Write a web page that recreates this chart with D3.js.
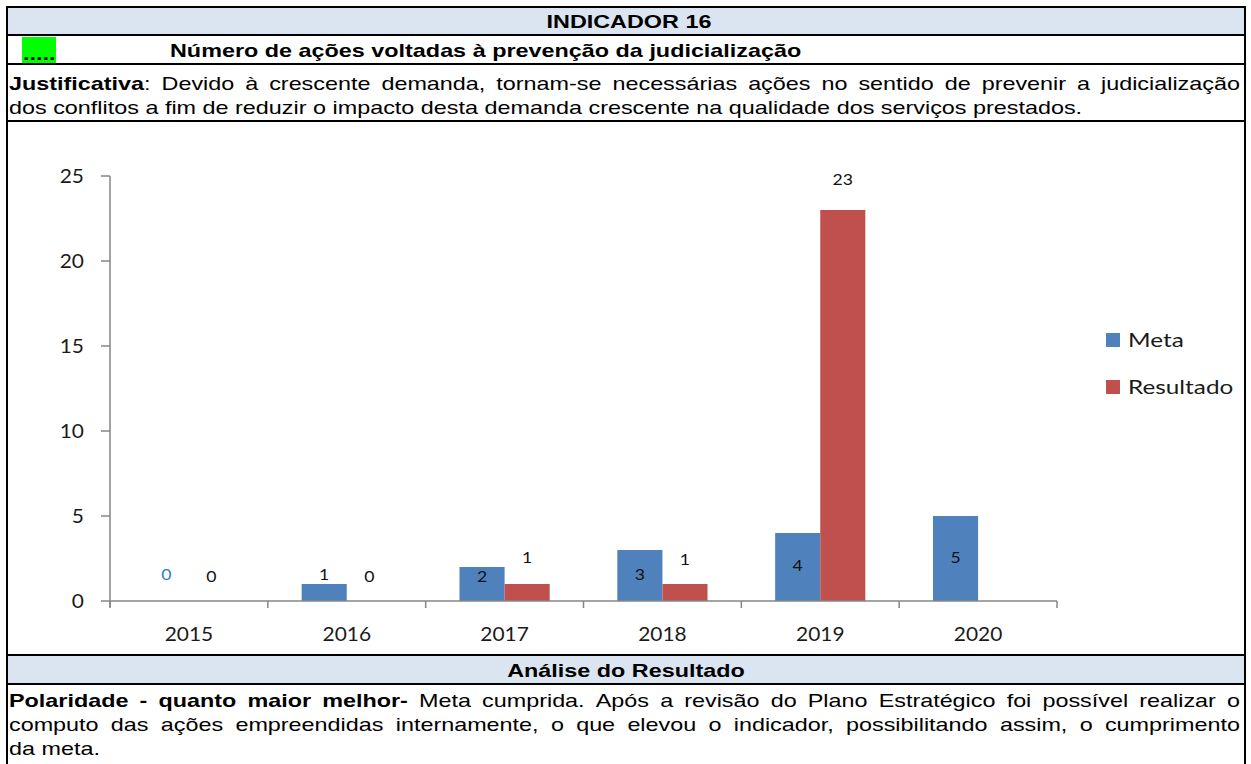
<!DOCTYPE html>
<html><head><meta charset="utf-8">
<script src="https://cdn.jsdelivr.net/npm/d3@7"></script>
<style>
html,body{margin:0;padding:0;background:#fff;}
svg{display:block;}
</style></head>
<body>
<svg id="c" width="1251" height="764"></svg>
<script>
// ---------- data ----------
const years = ["2015","2016","2017","2018","2019","2020"];
const series = ["Meta","Resultado"];
const meta = [0,1,2,3,4,5];
const resultado = [0,0,1,1,23,null];
// label anchor heights (data units), as placed in the original chart
const metaLabelAt = [1.6,1.6,1.5,1.6,2.1,2.6];
const resultadoLabelAt = [1.5,1.5,2.6,2.5,24.8,null];
const yTicks = [0,5,10,15,20,25];

const titleText = "INDICADOR 16";
const nameText = "Número de ações voltadas à prevenção da judicialização";
const justLines = [
  [{t:"Justificativa",b:1},{t:": Devido à crescente demanda, tornam-se necessárias ações no sentido de prevenir a judicialização",b:0}],
  [{t:"dos conflitos a fim de reduzir o impacto desta demanda crescente na qualidade dos serviços prestados.",b:0}]
];
const analiseTitle = "Análise do Resultado";
const analiseLines = [
  [{t:"Polaridade - quanto maior melhor-",b:1},{t:" Meta cumprida. Após a revisão do Plano Estratégico foi possível realizar o",b:0}],
  [{t:"computo das ações empreendidas internamente, o que elevou o indicador, possibilitando assim, o cumprimento",b:0}],
  [{t:"da meta.",b:0}]
];

// ---------- styles ----------
const BODY_FONT = "'Liberation Sans', Arial, sans-serif";
const CHART_FONT = "Lato, 'Open Sans', sans-serif";
const FS = 19;
const SX = 1.23;       // horizontal stretch of the page text
const CSX = 1.1;       // horizontal stretch of chart text
const blue = "#4F81BD", red = "#C0504D";

const svg = d3.select("#c");
svg.append("rect").attr("width",1251).attr("height",764).attr("fill","#fff");

// ---------- table ----------
const L = 8, R = 1244;
const hdrFill = "#DBE5F1";
svg.append("rect").attr("x",L).attr("y",8).attr("width",R-L).attr("height",26).attr("fill",hdrFill);
svg.append("rect").attr("x",L).attr("y",656).attr("width",R-L).attr("height",27).attr("fill",hdrFill);
svg.append("rect").attr("x",22).attr("y",37).attr("width",34).attr("height",26).attr("fill","#00FF00");

const hLines = [6,34,63,120,654,683];
hLines.forEach(y=>svg.append("rect").attr("x",6).attr("y",y).attr("width",1240).attr("height",2).attr("fill","#000"));
[6,1244].forEach(x=>svg.append("rect").attr("x",x).attr("y",6).attr("width",2).attr("height",758).attr("fill","#000"));

// ---------- text helper ----------
function tokenize(segs){
  const words=[]; let cur=null;
  segs.forEach(seg=>{
    seg.t.split(" ").forEach((p,i)=>{
      if(i>0){ if(cur && cur.length) words.push(cur); cur=[]; }
      if(!cur) cur=[];
      if(p) cur.push({t:p,b:seg.b});
    });
  });
  if(cur && cur.length) words.push(cur);
  return words;
}
function drawLine(segs, x0, y, opt){
  const fs = opt.size, sx = opt.sx, g = svg.append("g");
  const words = tokenize(segs);
  const els = words.map(w=>{
    const t = g.append("text").attr("font-family",opt.font).attr("font-size",fs).attr("fill","#000");
    w.forEach(p=>t.append("tspan").attr("font-weight",p.b?"bold":"normal").text(p.t));
    return t;
  });
  const widths = els.map(t=>t.node().getComputedTextLength()*sx);
  const sum = d3.sum(widths);
  const space = 0.278*fs*sx;
  let gap = space;
  if(opt.justifyTo!=null && words.length>1) gap = (opt.justifyTo - x0 - sum)/(words.length-1);
  let start = x0;
  if(opt.center!=null) start = opt.center - (sum + gap*(words.length-1))/2;
  let x = start;
  els.forEach((t,i)=>{ t.attr("transform",`translate(${x},${y}) scale(${sx},1)`); x += widths[i]+gap; });
}

const body = {size:FS,sx:SX,font:BODY_FONT};
drawLine([{t:titleText,b:1}], 0, 28, {...body,center:629});
drawLine([{t:".....",b:1}], 23, 60, body);
drawLine([{t:nameText,b:1}], 170, 57, body);
drawLine(justLines[0], 9, 90, {...body,justifyTo:1240});
drawLine(justLines[1], 9, 114, body);
drawLine([{t:analiseTitle,b:1}], 0, 677, {...body,center:626});
drawLine(analiseLines[0], 9, 707, {...body,justifyTo:1240});
drawLine(analiseLines[1], 9, 731, {...body,justifyTo:1240});
drawLine(analiseLines[2], 9, 755, body);

// ---------- chart ----------
const x0 = d3.scaleBand().domain(years).range([110,1057]).paddingInner(0).paddingOuter(0);
const x1 = d3.scaleBand().domain(series).range([0,x0.bandwidth()]).paddingInner(0).paddingOuter(0.75);
const y = d3.scaleLinear().domain([0,25]).range([601,176]);
const axisColor = "#868686";
const chart = svg.append("g");

const rows = years.map((yr,i)=>({yr, vals:[
  {s:"Meta",v:meta[i],at:metaLabelAt[i],yr},
  {s:"Resultado",v:resultado[i],at:resultadoLabelAt[i],yr}
]}));

const grp = chart.selectAll("g.cat").data(rows).join("g").attr("class","cat")
  .attr("transform",d=>`translate(${x0(d.yr)},0)`);
grp.selectAll("rect").data(d=>d.vals.filter(v=>v.v!=null)).join("rect")
  .attr("x",d=>x1(d.s)).attr("width",x1.bandwidth())
  .attr("y",d=>y(d.v)).attr("height",d=>y(0)-y(d.v))
  .attr("fill",d=>d.s==="Meta"?blue:red);

// y axis
chart.append("line").attr("x1",110).attr("x2",110).attr("y1",y(25)).attr("y2",y(0)+6)
  .attr("stroke",axisColor).attr("stroke-width",1.5);
yTicks.forEach(t=>{
  chart.append("line").attr("x1",101).attr("x2",110).attr("y1",y(t)).attr("y2",y(t)).attr("stroke",axisColor).attr("stroke-width",1.5);
  chart.append("g").attr("transform",`translate(84,${y(t)+6.5}) scale(${CSX},1)`)
    .append("text").attr("text-anchor","end").attr("font-family",CHART_FONT).attr("font-size",19).attr("fill","#1a1a1a").text(t);
});
// x axis
chart.append("line").attr("x1",110).attr("x2",1057).attr("y1",y(0)).attr("y2",y(0)).attr("stroke",axisColor).attr("stroke-width",1.5);
const bounds = years.map(d=>x0(d)).concat([x0.range()[1]]);
bounds.forEach(bx=>chart.append("line").attr("x1",bx).attr("x2",bx).attr("y1",y(0)).attr("y2",y(0)+7).attr("stroke",axisColor).attr("stroke-width",1.5));
years.forEach(yr=>{
  chart.append("g").attr("transform",`translate(${x0(yr)+x0.bandwidth()/2},641) scale(${CSX},1)`)
    .append("text").attr("text-anchor","middle").attr("font-family",CHART_FONT).attr("font-size",19).attr("fill","#1a1a1a").text(yr);
});
// value labels
grp.selectAll("g.lbl").data(d=>d.vals.filter(v=>v.v!=null)).join("g").attr("class","lbl")
  .attr("transform",d=>`translate(${x1(d.s)+x1.bandwidth()/2},${y(d.at)+6}) scale(${CSX},1)`)
  .append("text").attr("text-anchor","middle").attr("font-family",CHART_FONT).attr("font-size",16)
  .attr("fill",d=>(d.yr==="2015"&&d.s==="Meta")?"#2E7BD6":"#111")
  .text(d=>d.v);

// legend
const leg = chart.append("g");
series.forEach((s,i)=>{
  const ly = 340 + i*47;
  leg.append("rect").attr("x",1106).attr("y",ly-7).attr("width",14).attr("height",14).attr("fill",i?red:blue);
  leg.append("g").attr("transform",`translate(1128,${ly+6.5}) scale(1.28,1)`)
    .append("text").attr("font-family",CHART_FONT).attr("font-size",19).attr("fill","#1a1a1a").text(s);
});
</script>
</body></html>
